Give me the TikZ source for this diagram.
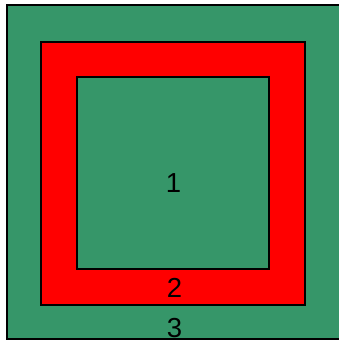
\documentclass[tikz,border=0pt]{standalone}
\usepackage{fontspec}
\setmainfont{Liberation Sans}
\usepackage{xcolor}
\definecolor{fieldgreen}{RGB}{54,150,105}
\definecolor{ringred}{RGB}{255,0,0}

\begin{document}
\begin{tikzpicture}[x=1pt,y=-1pt,
  zone/.style={draw=black,line width=1.6pt},
  num/.style={anchor=base,font=\fontsize{27.5}{27.5}\selectfont,inner sep=0pt}]
\useasboundingbox (0,0) rectangle (339,341);
\fill[white] (0,0) rectangle (339,341);
\begin{scope}
\clip (0,0) rectangle (339,341);
\draw[zone,fill=fieldgreen] (7,5) rectangle (345,339);
\end{scope}
\draw[zone,fill=ringred] (41,42) rectangle (305,305);
\draw[zone,fill=fieldgreen] (77,77) rectangle (269,269);
\node[num] (z1) at (173.5,192.5) {1};
\node[num] (z2) at (174.5,297.5) {2};
\node[num] (z3) at (174.5,337.5) {3};
\end{tikzpicture}
\end{document}
